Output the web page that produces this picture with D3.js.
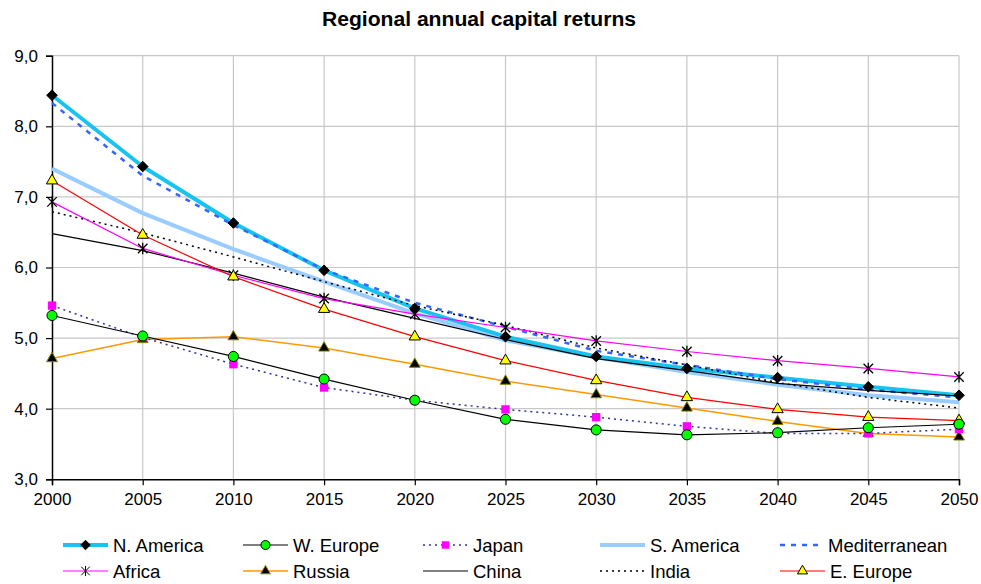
<!DOCTYPE html>
<html>
<head>
<meta charset="utf-8">
<script src="https://cdn.jsdelivr.net/npm/d3@7"></script>
<style>
    body { margin: 0; background: #fff; }
    svg text { font-family: "Liberation Sans", Arial, sans-serif; fill: #000; }
</style>
</head>
<body>
<svg id="chart" width="981" height="584"></svg>
<script>
'use strict';

/*
    regional annual capital returns, line chart with markers
*/

var years = [2000, 2005, 2010, 2015, 2020, 2025, 2030, 2035, 2040, 2045, 2050];
var yTicks = [3, 4, 5, 6, 7, 8, 9];

var nAmerica      = [8.44, 7.43, 6.63, 5.96, 5.42, 5.02, 4.74, 4.57, 4.44, 4.31, 4.19];
var wEurope       = [5.32, 5.03, 4.74, 4.42, 4.12, 3.85, 3.70, 3.63, 3.66, 3.73, 3.78];
var japan         = [5.46, 5.01, 4.63, 4.30, 4.12, 3.99, 3.88, 3.75, 3.65, 3.65, 3.71];
var sAmerica      = [7.40, 6.77, 6.26, 5.80, 5.35, 4.97, 4.73, 4.52, 4.34, 4.19, 4.09];
var mediterranean = [8.33, 7.30, 6.60, 5.97, 5.50, 5.16, 4.82, 4.62, 4.42, 4.27, 4.16];
var africa        = [6.93, 6.27, 5.89, 5.56, 5.34, 5.15, 4.96, 4.81, 4.68, 4.57, 4.45];
var russia        = [4.71, 4.98, 5.02, 4.86, 4.63, 4.39, 4.20, 4.01, 3.82, 3.65, 3.60];
var china         = [6.48, 6.24, 5.92, 5.58, 5.28, 4.98, 4.71, 4.54, 4.36, 4.26, 4.18];
var india         = [6.79, 6.49, 6.15, 5.80, 5.46, 5.18, 4.86, 4.62, 4.37, 4.16, 4.01];
var eEurope       = [7.23, 6.46, 5.87, 5.41, 5.02, 4.68, 4.40, 4.16, 3.99, 3.88, 3.83];

/* asterisk marker: an x with a vertical stroke */
var symbolStar = {
    draw: function(context, size) {
        var r = Math.sqrt(size) / 2;
        context.moveTo(-r, -r); context.lineTo(r, r);
        context.moveTo(-r, r); context.lineTo(r, -r);
        context.moveTo(0, -r * 1.2); context.lineTo(0, r * 1.2);
    }
};

var series = [
    { name: 'N. America', values: nAmerica, color: '#19c3f0', width: 4, dash: null,
      symbol: d3.symbolDiamond2, size: 72, fill: '#000', stroke: '#000' },
    { name: 'W. Europe', values: wEurope, color: '#000', width: 1.2, dash: null,
      symbol: d3.symbolCircle, size: 80, fill: '#00ff00', stroke: '#000' },
    { name: 'Japan', values: japan, color: '#333399', width: 1.5, dash: '2,4',
      symbol: d3.symbolSquare, size: 70, fill: '#ff00ff', stroke: 'none' },
    { name: 'S. America', values: sAmerica, color: '#99ccff', width: 4, dash: null,
      symbol: null },
    { name: 'Mediterranean', values: mediterranean, color: '#3366ff', width: 2.5, dash: '5,6',
      symbol: null },
    { name: 'Africa', values: africa, color: '#ff00ff', width: 1.2, dash: null,
      symbol: symbolStar, size: 90, fill: 'none', stroke: '#000' },
    { name: 'Russia', values: russia, color: '#ff9900', width: 1.5, dash: null,
      symbol: d3.symbolTriangle, size: 50, fill: '#000', stroke: '#808000' },
    { name: 'China', values: china, color: '#000', width: 1.2, dash: null,
      symbol: null },
    { name: 'India', values: india, color: '#000', width: 1.5, dash: '2,4',
      symbol: null },
    { name: 'E. Europe', values: eEurope, color: '#ff0000', width: 1.2, dash: null,
      symbol: d3.symbolTriangle, size: 55, fill: '#ffff00', stroke: '#000' }
];

/* draw order: thick lines underneath */
var drawOrder = ['S. America', 'N. America', 'Mediterranean', 'India', 'China', 'Africa',
    'E. Europe', 'Russia', 'Japan', 'W. Europe'];

var svg = d3.select('#chart');
var plotLeft = 52, plotRight = 959, plotTop = 55.7, plotBottom = 479.3;

var x = d3.scaleLinear().domain([2000, 2050]).range([plotLeft, plotRight]);
var y = d3.scaleLinear().domain([3, 9]).range([plotBottom, plotTop]);

svg.append('text')
    .attr('x', 479).attr('y', 26)
    .attr('text-anchor', 'middle')
    .style('font-size', '20px').style('font-weight', 'bold')
    .attr('textLength', 314).attr('lengthAdjust', 'spacingAndGlyphs')
    .text('Regional annual capital returns');

/* grid */
var grid = svg.append('g');
grid.selectAll('line.h').data(yTicks.slice(1)).enter().append('line')
    .attr('x1', plotLeft).attr('x2', plotRight)
    .attr('y1', function(d) { return y(d); }).attr('y2', function(d) { return y(d); })
    .attr('stroke', '#c8c8c8').attr('stroke-width', 1.2);
grid.selectAll('line.v').data(years.slice(1)).enter().append('line')
    .attr('y1', plotTop).attr('y2', plotBottom)
    .attr('x1', function(d) { return x(d); }).attr('x2', function(d) { return x(d); })
    .attr('stroke', '#c8c8c8').attr('stroke-width', 1.2);

/* axes */
var yAxis = d3.axisLeft(y).tickValues(yTicks).tickSize(6).tickPadding(8)
    .tickFormat(function(d) { return d3.format('.1f')(d).replace('.', ','); });
var xAxis = d3.axisBottom(x).tickValues(years).tickSize(6).tickPadding(8)
    .tickFormat(d3.format('d'));

var gy = svg.append('g').attr('transform', 'translate(' + plotLeft + ',0)').call(yAxis);
var gx = svg.append('g').attr('transform', 'translate(0,' + plotBottom + ')').call(xAxis);
[gx, gy].forEach(function(g) {
    g.select('.domain').attr('stroke', '#000').attr('stroke-width', 1.5);
    g.selectAll('.tick line').attr('stroke', '#000').attr('stroke-width', 1.2);
    g.selectAll('.tick text').style('font-size', '17px')
        .style('font-family', '"Liberation Sans", Arial, sans-serif').attr('fill', '#000');
});

var line = d3.line()
    .x(function(d, i) { return x(years[i]); })
    .y(function(d) { return y(d); });

var ordered = drawOrder.map(function(n) {
    return series.filter(function(s) { return s.name === n; })[0];
});

svg.append('g').selectAll('path').data(ordered).enter().append('path')
    .attr('d', function(s) { return line(s.values); })
    .attr('fill', 'none')
    .attr('stroke', function(s) { return s.color; })
    .attr('stroke-width', function(s) { return s.width; })
    .attr('stroke-dasharray', function(s) { return s.dash; })
    .attr('stroke-linejoin', 'round');

var markers = svg.append('g');
ordered.filter(function(s) { return s.symbol; }).forEach(function(s) {
    markers.selectAll(null).data(s.values).enter().append('path')
        .attr('transform', function(d, i) { return 'translate(' + x(years[i]) + ',' + y(d) + ')'; })
        .attr('d', d3.symbol().type(s.symbol).size(s.size))
        .attr('fill', s.fill)
        .attr('stroke', s.stroke)
        .attr('stroke-width', s.symbol === symbolStar ? 1.3 : 1);
});

/* legend */
var colX = [63, 243, 423, 600, 780];
var rowY = [545, 571];
var legend = svg.append('g');
series.forEach(function(s, i) {
    var cx = colX[i % 5], cy = rowY[Math.floor(i / 5)];
    var g = legend.append('g').attr('transform', 'translate(' + cx + ',' + cy + ')');
    g.append('line')
        .attr('x1', 0).attr('x2', s.name === 'Mediterranean' ? 40 : 45)
        .attr('stroke', s.color)
        .attr('stroke-width', s.width)
        .attr('stroke-dasharray', s.dash);
    if (s.symbol) {
        g.append('path')
            .attr('transform', 'translate(22.5,0)')
            .attr('d', d3.symbol().type(s.symbol).size(s.size * 0.8))
            .attr('fill', s.fill).attr('stroke', s.stroke);
    }
    g.append('text')
        .attr('x', s.name === 'Mediterranean' ? 48 : 50).attr('y', 6.5)
        .style('font-size', '18.5px')
        .text(s.name);
});
</script>
</body>
</html>
